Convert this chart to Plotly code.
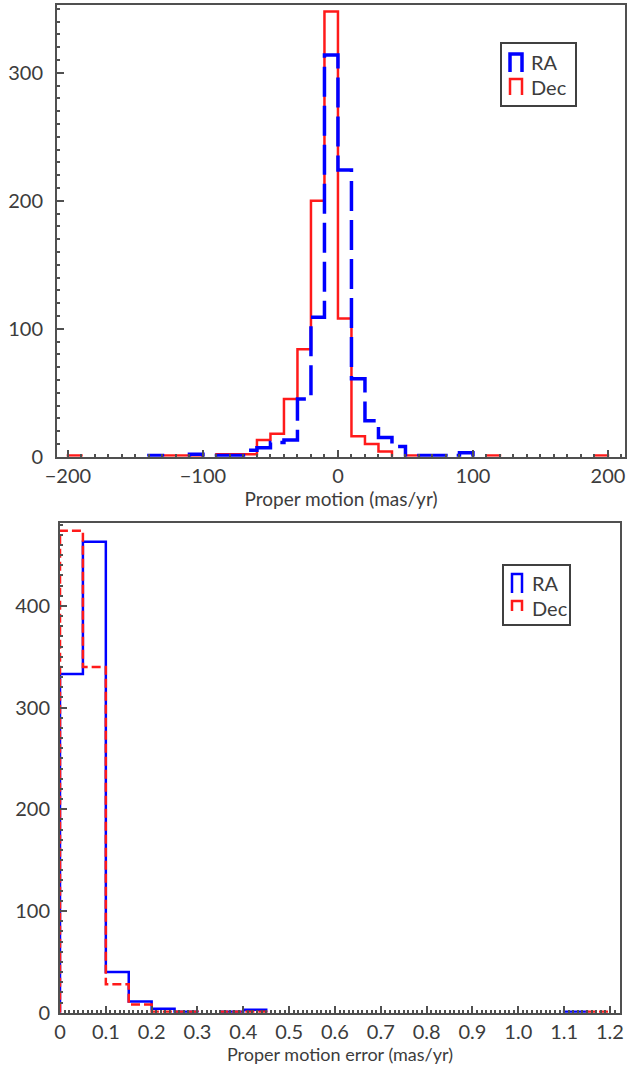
import numpy as np
import plotly.graph_objects as go

# ---------------- data ----------------
# Top panel: proper motion histogram, bins of 10 mas/yr from -200 to 200
pm_edges = np.arange(-200, 201, 10)
pm_ra = [None, None, None, None, None, None, 1, None, None, 2,
         None, 1, 1, 5, 7, 11, 13, 45, 109, 314,
         224, 61, 28, 15, 8, None, 1, 1, 1, 3,
         None, None, None, None, None, None, None, None, None, None]
pm_dec = [1, None, None, None, None, None, None, 1, 1, 1,
          None, 2, 2, 2, 13, 18, 45, 84, 200, 348,
          108, 16, 10, 4, None, 1, None, None, None, None,
          None, 1, None, None, None, None, None, None, None, 1]

# Bottom panel: proper motion error histogram, bins of 0.05 mas/yr from 0 to 1.2
err_edges = np.round(np.arange(0, 1.2001, 0.05), 3)
err_ra = [333, 463, 40, 11, 4, 1, None, 1, 3, None, None, None,
          None, None, None, None, None, None, None, None, None, None, 1, None]
err_dec = [474, 340, 28, 8, 1, 1, None, 1, 1, None, None, None,
           None, None, None, None, None, None, None, None, None, None, None, 1]

err_tickvals = [0, 0.1, 0.2, 0.3, 0.4, 0.5, 0.6, 0.7, 0.8, 0.9, 1.0, 1.1, 1.2]
err_ticktext = ["0", "0.1", "0.2", "0.3", "0.4", "0.5", "0.6", "0.7", "0.8", "0.9", "1.0", "1.1", "1.2"]


def steps(edges, counts):
    xs, ys = [], []
    prev = None
    for i, c in enumerate(counts):
        l, r = float(edges[i]), float(edges[i + 1])
        if c is None:
            if prev is not None:
                xs += [l, None]
                ys += [0, None]
            prev = None
            continue
        if prev is None:
            xs.append(l)
            ys.append(0)
        xs += [l, r]
        ys += [c, c]
        prev = c
    if prev is not None:
        xs.append(float(edges[-1]))
        ys.append(0)
    return xs, ys


W, H = 644, 1069
BLUE = "#0000ff"
RED = "#ff1a1a"
TXT = "#3c3c3c"
AX = "#505050"
FONT = "Lato"

fig = go.Figure()

x, y = steps(pm_edges, pm_dec)
fig.add_trace(go.Scatter(x=x, y=y, mode="lines", line=dict(color=RED, width=2.5),
                         xaxis="x", yaxis="y", showlegend=False, name="Dec"))
x, y = steps(pm_edges, pm_ra)
fig.add_trace(go.Scatter(x=x, y=y, mode="lines", line=dict(color=BLUE, width=3.5, dash="30px,9px"),
                         xaxis="x", yaxis="y", showlegend=False, name="RA"))

x, y = steps(err_edges, err_ra)
fig.add_trace(go.Scatter(x=x, y=y, mode="lines", line=dict(color=BLUE, width=2.5),
                         xaxis="x2", yaxis="y2", showlegend=False, name="RA"))
x, y = steps(err_edges, err_dec)
fig.add_trace(go.Scatter(x=x, y=y, mode="lines", line=dict(color=RED, width=2.5, dash="9px,4px"),
                         xaxis="x2", yaxis="y2", showlegend=False, name="Dec"))


def px(xp):
    return xp / W


def py(yp):
    return 1 - yp / H


axis_common = dict(showline=True, linecolor=AX, linewidth=2, mirror=True, showgrid=False,
                   zeroline=False, ticks="inside", tickcolor=AX, ticklen=7, tickwidth=1.5,
                   automargin=False, layer="above traces",
                   tickfont=dict(family=FONT, size=20, color=TXT))

fig.update_layout(
    width=W, height=H, margin=dict(l=0, r=0, t=0, b=0),
    paper_bgcolor="white", plot_bgcolor="white",
    xaxis=dict(domain=[px(57), px(625)], anchor="y", range=[-208.1, 212.6], dtick=100, tick0=0,
               minor=dict(dtick=10, ticks="inside", ticklen=3, tickcolor=AX),
               title=dict(text="Proper motion (mas/yr)", font=dict(family=FONT, size=19, color=TXT), standoff=4),
               ticklabelstandoff=0, **axis_common),
    yaxis=dict(domain=[py(456.7), py(5)], anchor="x", range=[0, 353], dtick=100, tick0=0,
               minor=dict(dtick=10, ticks="inside", ticklen=3, tickcolor=AX),
               ticklabelstandoff=8, **axis_common),
    xaxis2=dict(domain=[px(60), px(620)], anchor="y2", range=[0, 1.222],
                tickvals=err_tickvals, ticktext=err_ticktext,
                minor=dict(dtick=0.01, tick0=0, ticks="inside", ticklen=3, tickcolor=AX),
                title=dict(text="Proper motion error (mas/yr)", font=dict(family=FONT, size=18, color=TXT), standoff=4),
                ticklabelstandoff=0, **axis_common),
    yaxis2=dict(domain=[py(1012.7), py(523)], anchor="x2", range=[0, 481.5], dtick=100, tick0=0,
                minor=dict(dtick=10, ticks="inside", ticklen=3, tickcolor=AX),
                ticklabelstandoff=4, **axis_common),
)

# ---------------- manual legends ----------------
shapes = []
annotations = []


def legend(box, entries):
    x0, y0, x1, y1 = box
    shapes.append(dict(type="rect", xref="paper", yref="paper",
                       x0=px(x0), x1=px(x1), y0=py(y1), y1=py(y0),
                       line=dict(color="#404040", width=2), fillcolor="white"))
    for (ix0, ix1, iy0, iy1, color, width, label, tx, ty) in entries:
        path = "M {a},{b} L {a},{c} L {d},{c} L {d},{b}".format(
            a=px(ix0), b=py(iy1), c=py(iy0), d=px(ix1))
        shapes.append(dict(type="path", xref="paper", yref="paper", path=path,
                           line=dict(color=color, width=width)))
        annotations.append(dict(xref="paper", yref="paper", x=px(tx), y=py(ty),
                                xanchor="left", yanchor="middle", showarrow=False,
                                text=label, font=dict(family=FONT, size=20, color=TXT)))


legend((501, 43, 576, 106), [
    (510, 522, 54, 72, BLUE, 3.5, "RA", 529, 62),
    (510, 522, 79, 95, RED, 2.5, "Dec", 529, 87),
])
legend((503, 565, 570, 625), [
    (512, 522, 574, 593, BLUE, 2.5, "RA", 530, 583),
    (512, 522, 601, 611, RED, 2.5, "Dec", 530, 608),
])

fig.update_layout(shapes=shapes, annotations=annotations)

fig.write_html("out.html")
